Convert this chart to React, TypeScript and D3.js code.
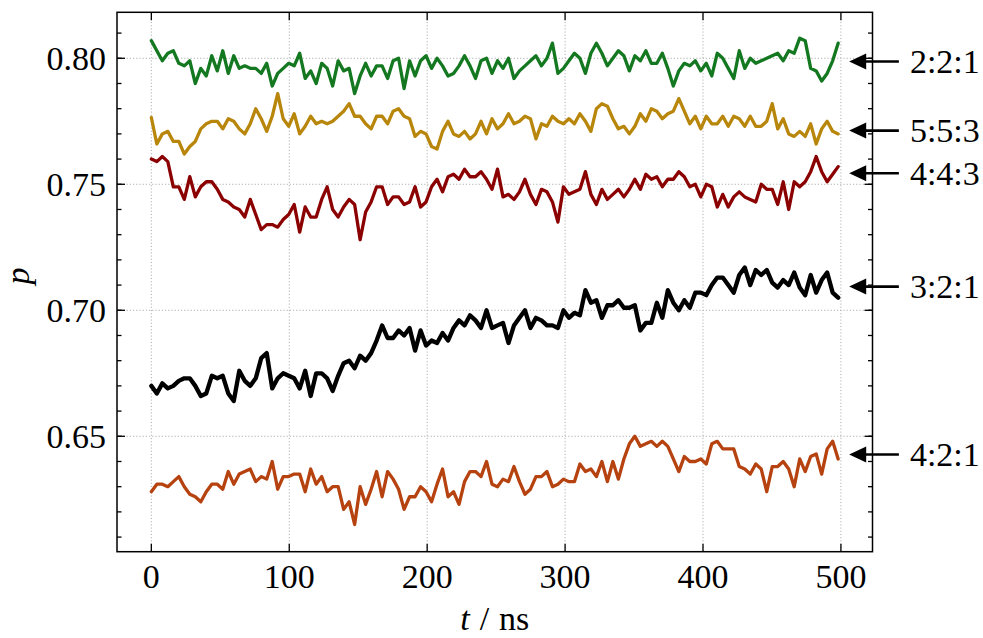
import React from 'react';
import * as d3 from 'd3';

// time axis (ns): 126 samples, 0 … 498 ns
const times: number[] = d3.range(126).map((i) => (i * 498) / 125);

const s221 = [
  0.807, 0.803, 0.799, 0.802, 0.803, 0.798, 0.797, 0.799, 0.790, 0.796, 0.793, 0.801, 0.795, 0.803, 0.794, 0.801, 0.796, 0.797, 0.796, 0.796, 0.794, 0.798, 0.789, 0.794, 0.796, 0.798,
  0.797, 0.802, 0.792, 0.795, 0.790, 0.798, 0.796, 0.789, 0.799, 0.795, 0.796, 0.786, 0.793, 0.798, 0.793, 0.797, 0.797, 0.792, 0.799, 0.800, 0.788, 0.799, 0.793, 0.799, 0.801,
  0.796, 0.800, 0.797, 0.793, 0.794, 0.797, 0.801, 0.797, 0.792, 0.799, 0.800, 0.794, 0.799, 0.796, 0.800, 0.792, 0.795, 0.797, 0.799, 0.801, 0.797, 0.800, 0.806, 0.794, 0.796,
  0.799, 0.802, 0.800, 0.794, 0.802, 0.806, 0.802, 0.797, 0.800, 0.803, 0.801, 0.795, 0.801, 0.799, 0.803, 0.798, 0.798, 0.802, 0.796, 0.789, 0.795, 0.798, 0.797, 0.799, 0.795,
  0.798, 0.793, 0.802, 0.800, 0.796, 0.792, 0.803, 0.796, 0.800, 0.798, 0.799, 0.800, 0.801, 0.802, 0.799, 0.803, 0.802, 0.808, 0.807, 0.796, 0.795, 0.791, 0.794, 0.799, 0.806,
];

const s553 = [
  0.7765, 0.766, 0.770, 0.771, 0.767, 0.767, 0.762, 0.765, 0.767, 0.772, 0.774, 0.775, 0.775, 0.772, 0.776, 0.775, 0.772, 0.770, 0.774, 0.780, 0.776, 0.771, 0.777, 0.786, 0.776, 0.773,
  0.778, 0.770, 0.773, 0.777, 0.774, 0.775, 0.774, 0.775, 0.777, 0.779, 0.782, 0.777, 0.777, 0.774, 0.772, 0.777, 0.777, 0.774, 0.779, 0.780, 0.777, 0.776, 0.769, 0.771, 0.770,
  0.765, 0.764, 0.771, 0.775, 0.770, 0.769, 0.771, 0.768, 0.770, 0.775, 0.770, 0.776, 0.772, 0.774, 0.778, 0.774, 0.775, 0.777, 0.776, 0.768, 0.774, 0.773, 0.777, 0.775, 0.774,
  0.776, 0.774, 0.778, 0.775, 0.771, 0.780, 0.782, 0.781, 0.776, 0.772, 0.773, 0.770, 0.773, 0.778, 0.775, 0.780, 0.779, 0.776, 0.778, 0.779, 0.784, 0.779, 0.774, 0.777, 0.772,
  0.777, 0.774, 0.774, 0.777, 0.773, 0.777, 0.776, 0.773, 0.777, 0.773, 0.773, 0.775, 0.782, 0.772, 0.776, 0.770, 0.769, 0.771, 0.769, 0.774, 0.766, 0.772, 0.775, 0.771, 0.770,
];

const s443 = [
  0.760, 0.759, 0.761, 0.759, 0.749, 0.749, 0.744, 0.753, 0.745, 0.749, 0.751, 0.751, 0.748, 0.744, 0.743, 0.741, 0.740, 0.737, 0.744, 0.738, 0.732, 0.734, 0.734, 0.733, 0.736, 0.738,
  0.742, 0.731, 0.741, 0.737, 0.737, 0.744, 0.749, 0.740, 0.737, 0.741, 0.744, 0.742, 0.728, 0.739, 0.743, 0.749, 0.749, 0.742, 0.745, 0.745, 0.742, 0.743, 0.749, 0.741, 0.743,
  0.749, 0.752, 0.747, 0.753, 0.754, 0.752, 0.756, 0.753, 0.753, 0.755, 0.752, 0.748, 0.756, 0.745, 0.746, 0.744, 0.747, 0.752, 0.746, 0.742, 0.748, 0.747, 0.743, 0.735, 0.749,
  0.746, 0.747, 0.748, 0.755, 0.746, 0.742, 0.748, 0.744, 0.746, 0.748, 0.745, 0.748, 0.752, 0.748, 0.754, 0.752, 0.753, 0.749, 0.752, 0.752, 0.755, 0.753, 0.749, 0.750, 0.745,
  0.750, 0.749, 0.741, 0.746, 0.741, 0.745, 0.747, 0.745, 0.744, 0.743, 0.750, 0.748, 0.748, 0.742, 0.751, 0.740, 0.751, 0.749, 0.751, 0.755, 0.761, 0.755, 0.751, 0.754, 0.757,
];

const s321 = [
  0.670, 0.667, 0.671, 0.669, 0.670, 0.672, 0.673, 0.673, 0.670, 0.666, 0.667, 0.674, 0.673, 0.674, 0.667, 0.664, 0.676, 0.672, 0.670, 0.673, 0.681, 0.683, 0.669, 0.673, 0.675, 0.674,
  0.673, 0.669, 0.676, 0.666, 0.675, 0.675, 0.673, 0.668, 0.674, 0.679, 0.680, 0.677, 0.682, 0.680, 0.683, 0.688, 0.694, 0.689, 0.689, 0.692, 0.690, 0.693, 0.684, 0.692, 0.686,
  0.688, 0.687, 0.691, 0.688, 0.693, 0.696, 0.694, 0.698, 0.696, 0.693, 0.700, 0.693, 0.694, 0.695, 0.687, 0.694, 0.697, 0.700, 0.693, 0.697, 0.696, 0.694, 0.694, 0.693, 0.700,
  0.697, 0.699, 0.698, 0.708, 0.703, 0.704, 0.697, 0.702, 0.702, 0.704, 0.701, 0.701, 0.702, 0.692, 0.695, 0.695, 0.703, 0.697, 0.708, 0.703, 0.700, 0.704, 0.701, 0.707, 0.707,
  0.706, 0.710, 0.713, 0.713, 0.710, 0.707, 0.714, 0.717, 0.710, 0.716, 0.714, 0.716, 0.711, 0.709, 0.712, 0.710, 0.715, 0.709, 0.706, 0.714, 0.707, 0.712, 0.715, 0.707, 0.705,
];

const s421 = [
  0.628, 0.631, 0.631, 0.630, 0.632, 0.634, 0.630, 0.627, 0.626, 0.624, 0.628, 0.631, 0.631, 0.629, 0.636, 0.631, 0.635, 0.636, 0.637, 0.632, 0.634, 0.633, 0.640, 0.629, 0.634, 0.634,
  0.635, 0.635, 0.628, 0.637, 0.631, 0.634, 0.628, 0.630, 0.630, 0.621, 0.624, 0.615, 0.630, 0.623, 0.629, 0.636, 0.626, 0.636, 0.633, 0.629, 0.621, 0.626, 0.626, 0.630, 0.628,
  0.624, 0.631, 0.637, 0.626, 0.628, 0.623, 0.632, 0.636, 0.636, 0.634, 0.640, 0.631, 0.630, 0.633, 0.632, 0.638, 0.632, 0.627, 0.629, 0.634, 0.634, 0.636, 0.630, 0.631, 0.633,
  0.632, 0.632, 0.639, 0.636, 0.637, 0.634, 0.640, 0.632, 0.640, 0.633, 0.641, 0.647, 0.650, 0.646, 0.647, 0.648, 0.646, 0.648, 0.646, 0.641, 0.636, 0.642, 0.640, 0.640, 0.641,
  0.639, 0.647, 0.648, 0.645, 0.645, 0.645, 0.638, 0.637, 0.635, 0.639, 0.637, 0.628, 0.638, 0.638, 0.640, 0.637, 0.630, 0.641, 0.636, 0.642, 0.643, 0.635, 0.645, 0.648, 0.641,
];

const labelNames = ['2:2:1', '5:5:3', '4:4:3', '3:2:1', '4:2:1'];
const labelValues = [0.7987, 0.7713, 0.7544, 0.7094, 0.6428];

const xTicks = [0, 100, 200, 300, 400, 500];
const yTicks = [0.65, 0.7, 0.75, 0.8];
const yMinorTicks = d3.range(61, 82).map((v) => v / 100);

const W = 983;
const H = 638;
const M = { left: 117, right: 872.5, top: 12.3, bottom: 551.7 };
const FONT = '"Liberation Serif", "DejaVu Serif", serif';

export default function App() {
  const x = d3.scaleLinear().domain([-24.9, 522.9]).range([M.left, M.right]);
  const y = d3.scaleLinear().domain([0.6042, 0.81825]).range([M.bottom, M.top]);

  const series = [
    { name: '4:2:1', values: s421, color: '#b5420f', width: 3.3 },
    { name: '4:4:3', values: s443, color: '#8b0000', width: 3.3 },
    { name: '5:5:3', values: s553, color: '#b8860b', width: 3.3 },
    { name: '2:2:1', values: s221, color: '#147820', width: 3.3 },
    { name: '3:2:1', values: s321, color: '#000000', width: 4.3 },
  ];

  const line = d3
    .line<number>()
    .x((_, i) => x(times[i]))
    .y((d) => y(d));

  const majorLen = 8;
  const minorLen = 4.5;
  const tipX = x(506);
  const textX = x(550);

  return (
    <svg
      width={W}
      height={H}
      style={{ position: 'absolute', left: 0, top: 0, background: '#fff' }}
      fontFamily={FONT}
    >
      <rect x={0} y={0} width={W} height={H} fill="#fff" />
      {/* grid */}
      <g stroke="#a8a8a8" strokeWidth={0.9} strokeDasharray="1.2,2">
        {xTicks.map((t) => (
          <line key={'gx' + t} x1={x(t)} x2={x(t)} y1={M.top} y2={M.bottom} />
        ))}
        {yTicks.map((t) => (
          <line key={'gy' + t} x1={M.left} x2={M.right} y1={y(t)} y2={y(t)} />
        ))}
      </g>
      {/* series */}
      <g fill="none" strokeLinejoin="round" strokeLinecap="round">
        {series.map((s) => (
          <path key={s.name} d={line(s.values) || ''} stroke={s.color} strokeWidth={s.width} />
        ))}
      </g>
      {/* ticks */}
      <g stroke="#000" strokeWidth={1.3}>
        {xTicks.map((t) => (
          <g key={'tx' + t}>
            <line x1={x(t)} x2={x(t)} y1={M.bottom} y2={M.bottom - majorLen} />
            <line x1={x(t)} x2={x(t)} y1={M.top} y2={M.top + majorLen} />
          </g>
        ))}
        {yMinorTicks.map((t) => (
          <g key={'tm' + t}>
            <line x1={M.left} x2={M.left + minorLen} y1={y(t)} y2={y(t)} />
            <line x1={M.right} x2={M.right - minorLen} y1={y(t)} y2={y(t)} />
          </g>
        ))}
        {yTicks.map((t) => (
          <g key={'ty' + t}>
            <line x1={M.left} x2={M.left + majorLen} y1={y(t)} y2={y(t)} />
            <line x1={M.right} x2={M.right - majorLen} y1={y(t)} y2={y(t)} />
          </g>
        ))}
      </g>
      {/* frame */}
      <rect
        x={M.left}
        y={M.top}
        width={M.right - M.left}
        height={M.bottom - M.top}
        fill="none"
        stroke="#000"
        strokeWidth={1.5}
      />
      {/* tick labels */}
      <g fontSize={34} fill="#000">
        {xTicks.map((t) => (
          <text key={'lx' + t} x={x(t)} y={M.bottom + 36} textAnchor="middle">
            {String(t)}
          </text>
        ))}
        {yTicks.map((t) => (
          <text key={'ly' + t} x={M.left - 11} y={y(t) + 12} textAnchor="end">
            {t.toFixed(2)}
          </text>
        ))}
      </g>
      {/* axis labels */}
      <text x={(M.left + M.right) / 2} y={630} fontSize={34} textAnchor="middle">
        <tspan fontStyle="italic">t</tspan>
        <tspan dx={10}>/</tspan>
        <tspan dx={10}>ns</tspan>
      </text>
      <text
        transform={`translate(29, ${(M.top + M.bottom) / 2 - 6}) rotate(-90)`}
        fontSize={34}
        textAnchor="middle"
        fontStyle="italic"
      >
        p
      </text>
      {/* annotations */}
      <g>
        {labelNames.map((name, i) => {
          const yy = y(labelValues[i]);
          return (
            <g key={'an' + name}>
              <line x1={tipX + 15} x2={textX - 11} y1={yy} y2={yy} stroke="#000" strokeWidth={2.6} />
              <polygon
                points={`${tipX},${yy} ${tipX + 17},${yy - 8} ${tipX + 17},${yy + 8}`}
                fill="#000"
              />
              <text x={textX} y={yy + 11.5} fontSize={34} fill="#000">
                {name}
              </text>
            </g>
          );
        })}
      </g>
    </svg>
  );
}
